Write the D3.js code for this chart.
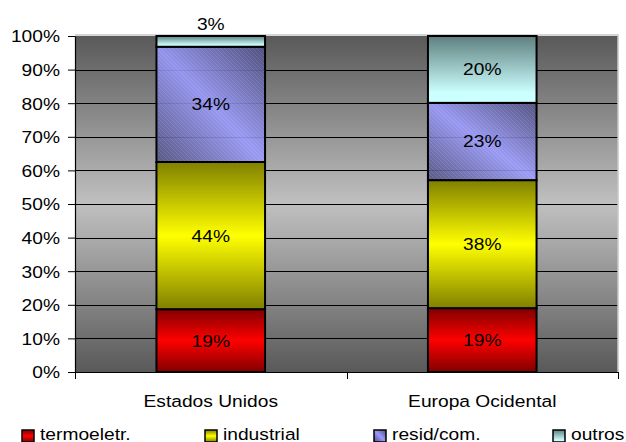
<!DOCTYPE html>
<html>
<head>
<meta charset="utf-8">
<script src="https://cdn.jsdelivr.net/npm/d3@7"></script>
<style>
html,body{margin:0;padding:0;background:#fff;}
svg{display:block;}
text{font-family:"Liberation Sans", Arial, sans-serif;fill:#000;}
</style>
</head>
<body>
<svg id="chart" width="626" height="442"></svg>
<script>
// ---- data ----
const categories = ["Estados Unidos", "Europa Ocidental"];
const seriesNames = ["termoeletr.", "industrial", "resid/com.", "outros"];
const termoeletr = [18.7, 19.0];
const industrial = [43.8, 38.1];
const residCom   = [34.3, 23.0];
const outros     = [3.2, 19.9];
const yTickValues = [0, 10, 20, 30, 40, 50, 60, 70, 80, 90, 100];
const yTickLabels = ["0%", "10%", "20%", "30%", "40%", "50%", "60%", "70%", "80%", "90%", "100%"];

const rows = categories.map((c, i) => ({
  cat: c,
  "termoeletr.": termoeletr[i],
  "industrial": industrial[i],
  "resid/com.": residCom[i],
  "outros": outros[i]
}));

// ---- layout ----
const svg = d3.select("#chart");
const L = 75, R = 618, T = 36, B = 372;
const SX = 1.13, FS = 17;

const x = d3.scaleBand().domain(categories).range([L, R]).paddingInner(0.6).paddingOuter(0.3);
const y = d3.scaleLinear().domain([0, 100]).range([B, T]);

const defs = svg.append("defs");
function vGrad(id, stops, x1=0, y1=0, x2=0, y2=1) {
  const g = defs.append("linearGradient").attr("id", id)
    .attr("x1", x1).attr("y1", y1).attr("x2", x2).attr("y2", y2);
  stops.forEach(s => g.append("stop").attr("offset", s[0]).attr("stop-color", s[1]));
}
vGrad("bg", [[0, "#595959"], [0.5, "#c0c0c0"], [1, "#595959"]]);
vGrad("g0", [[0, "#800000"], [0.5, "#ff0000"], [1, "#800000"]]);
vGrad("g1", [[0, "#808000"], [0.5, "#ffff00"], [1, "#808000"]]);
vGrad("g2", [[0, "#4d4d80"], [0.5, "#9999ff"], [1, "#4d4d80"]], 1, 0, 0, 1);
vGrad("g3", [[0, "#5f7f7f"], [0.85, "#ccffff"], [1, "#ccffff"]]);
const pat = defs.append("pattern").attr("id", "hatch").attr("patternUnits", "userSpaceOnUse")
  .attr("width", 4).attr("height", 4);
pat.append("path").attr("d", "M-1,-1 L5,5 M-1,3 L1,5 M3,-1 L5,1")
  .attr("stroke", "#ffffff").attr("stroke-opacity", 0.14).attr("stroke-width", 0.8);

const fills = {"termoeletr.": "url(#g0)", "industrial": "url(#g1)", "resid/com.": "url(#g2)", "outros": "url(#g3)"};

function stext(sel, tx, ty) {
  return sel.attr("x", 0).attr("y", 0)
    .attr("transform", `translate(${tx},${ty}) scale(${SX},1)`)
    .attr("font-size", FS);
}

// plot background
svg.append("rect").attr("x", L).attr("y", T).attr("width", R - L).attr("height", B - T)
  .attr("fill", "url(#bg)");

// gridlines
svg.append("g").selectAll("line").data(yTickValues.filter(v => v > 0 && v < 100)).join("line")
  .attr("x1", L).attr("x2", R).attr("y1", d => Math.round(y(d)) + 0.5).attr("y2", d => Math.round(y(d)) + 0.5)
  .attr("stroke", "#000").attr("stroke-width", 1);

// plot border (top/right)
svg.append("path").attr("d", `M${L},${T - 1} H${R} V${B}`)
  .attr("fill", "none").attr("stroke", "#c8c8c8").attr("stroke-width", 1.5);

// bars
const stack = d3.stack().keys(seriesNames)(rows);
const barG = svg.append("g");
stack.forEach(layer => {
  const g = barG.append("g");
  layer.forEach(seg => {
    const x0 = x(seg.data.cat), w = x.bandwidth();
    const y0 = y(seg[1]), h = y(seg[0]) - y(seg[1]);
    g.append("rect").attr("x", x0).attr("y", y0).attr("width", w).attr("height", h)
      .attr("fill", fills[layer.key])
      .attr("fill-opacity", layer.key === "resid/com." ? 0.88 : 1);
    if (layer.key === "resid/com.") {
      g.append("rect").attr("x", x0).attr("y", y0).attr("width", w).attr("height", h)
        .attr("fill", "url(#hatch)");
    }
    g.append("rect").attr("x", x0).attr("y", y0).attr("width", w).attr("height", h)
      .attr("fill", "none").attr("stroke", "#000").attr("stroke-width", 2);
  });
});

// labels
stack.forEach(layer => {
  layer.forEach(seg => {
    const v = seg[1] - seg[0];
    const cx = x(seg.data.cat) + x.bandwidth() / 2;
    const h = y(seg[0]) - y(seg[1]);
    let ty;
    if (h < 20) ty = y(seg[1]) - 6.5;
    else ty = (y(seg[0]) + y(seg[1])) / 2 + 0.35 * FS;
    stext(svg.append("text"), cx, ty).attr("text-anchor", "middle").text(Math.round(v) + "%");
  });
});

// y axis
const yAxis = svg.append("g").attr("transform", `translate(${L},0)`)
  .call(d3.axisLeft(y).tickValues(yTickValues).tickFormat((d, i) => yTickLabels[i]).tickSize(7).tickSizeOuter(0));
yAxis.select(".domain").attr("stroke", "#000").attr("stroke-width", 1.2);
yAxis.selectAll(".tick line").attr("stroke", "#000");
yAxis.selectAll(".tick text").each(function() {
  const t = d3.select(this);
  t.attr("x", 0).attr("dy", null).attr("y", 0).attr("font-size", FS)
    .attr("font-family", '"Liberation Sans", Arial, sans-serif')
    .attr("transform", `translate(-15,${0.35 * FS}) scale(${SX},1)`);
});

// x axis
svg.append("line").attr("x1", L).attr("x2", R).attr("y1", B + 0.5).attr("y2", B + 0.5)
  .attr("stroke", "#000").attr("stroke-width", 1.2);
const bounds = d3.range(categories.length + 1).map(i => L + i * x.step());
svg.append("g").selectAll("line").data(bounds).join("line")
  .attr("x1", d => Math.round(d) + 0.5).attr("x2", d => Math.round(d) + 0.5)
  .attr("y1", B).attr("y2", B + 7).attr("stroke", "#000");
categories.forEach(c => {
  stext(svg.append("text"), x(c) + x.bandwidth() / 2, 407).attr("text-anchor", "middle").text(c);
});

// legend
const legendX = [22, 205, 374, 553];
seriesNames.forEach((s, i) => {
  svg.append("rect").attr("x", legendX[i]).attr("y", 430).attr("width", 12).attr("height", 12)
    .attr("fill", fills[s]).attr("stroke", "#000").attr("stroke-width", 1.5);
  stext(svg.append("text"), legendX[i] + 18, 439.5).text(s);
});
</script>
</body>
</html>
